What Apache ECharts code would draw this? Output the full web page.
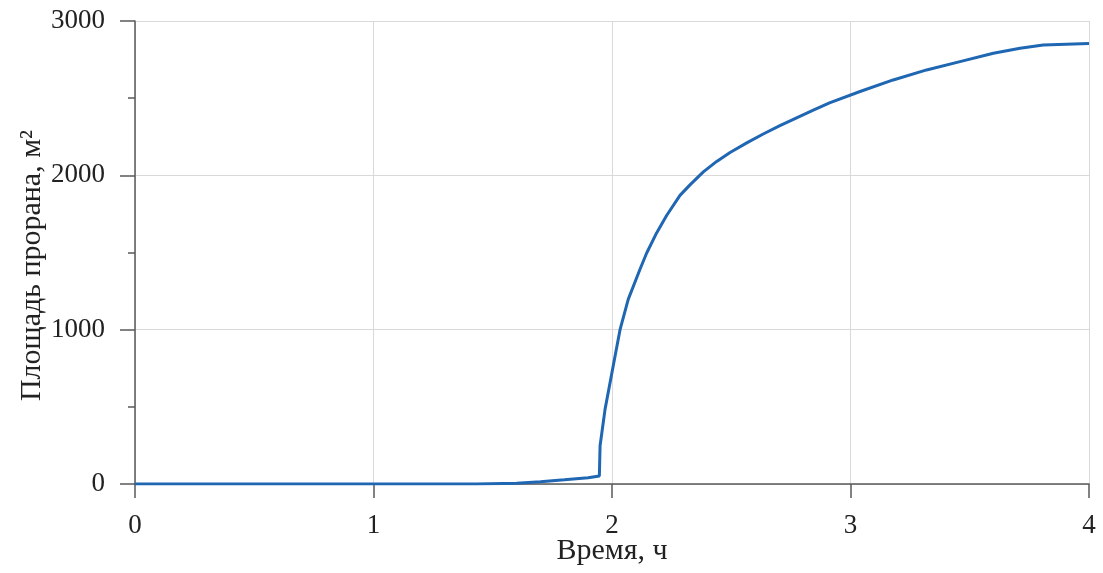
<!DOCTYPE html>
<html>
<head>
<meta charset="utf-8">
<script src="https://cdn.jsdelivr.net/npm/echarts@6/dist/echarts.min.js"></script>
<style>
  html, body { margin: 0; padding: 0; background: #ffffff; }
  #chart { width: 1103px; height: 573px; }
</style>
</head>
<body>
<div id="chart"></div>
<script>
// время, ч
var timeValues = [0, 1.43, 1.6, 1.7, 1.8, 1.9, 1.947, 1.95, 1.971, 2.005, 2.034, 2.068, 2.117, 2.145, 2.187, 2.229, 2.285, 2.327, 2.383, 2.439, 2.495, 2.565, 2.634, 2.704, 2.774, 2.844, 2.912, 3.04, 3.179, 3.319, 3.459, 3.599, 3.711, 3.808, 4.0];
// площадь прорана, м2
var areaValues = [0, 0, 5, 14, 27, 41, 52, 248, 485, 765, 1002, 1196, 1390, 1495, 1627, 1740, 1870, 1938, 2022, 2090, 2148, 2210, 2268, 2322, 2372, 2422, 2470, 2543, 2618, 2683, 2737, 2791, 2823, 2844, 2855];
var xTicks = [0, 1, 2, 3, 4];
var yTicks = [0, 1000, 2000, 3000];

var seriesData = [];
for (var i = 0; i < timeValues.length; i++) {
    seriesData.push([timeValues[i], areaValues[i]]);
}

var font = '"Liberation Serif", "Times New Roman", serif';
var axisColor = '#595959';
var gridColor = '#d9d9d9';

var myChart = echarts.init(document.getElementById('chart'));
var option = {
    animation: false,
    backgroundColor: '#ffffff',
    grid: {
        left: 135,
        right: 14,
        top: 21,
        bottom: 89,
        containLabel: false,
        outerBoundsMode: 'none'
    },
    xAxis: {
        type: 'value',
        min: xTicks[0],
        max: xTicks[xTicks.length - 1],
        interval: 1,
        name: 'Время, ч',
        nameLocation: 'middle',
        nameGap: 52,
        nameMoveOverlap: false,
        nameTextStyle: { fontFamily: font, fontSize: 30, color: '#222' },
        axisLine: { show: true, onZero: false, lineStyle: { color: axisColor, width: 1.5 } },
        axisTick: { show: true, inside: false, length: 14, lineStyle: { color: axisColor, width: 1.5 } },
        axisLabel: { fontFamily: font, fontSize: 27, color: '#222', margin: 28 },
        splitLine: { show: true, lineStyle: { color: gridColor, width: 1 } }
    },
    yAxis: {
        type: 'value',
        min: yTicks[0],
        max: yTicks[yTicks.length - 1],
        interval: 1000,
        name: 'Площадь прорана, м²',
        nameLocation: 'middle',
        nameGap: 88,
        nameMoveOverlap: false,
        nameTextStyle: { fontFamily: font, fontSize: 30, color: '#222', padding: [0, 26, 0, 0] },
        axisLine: { show: true, lineStyle: { color: axisColor, width: 1.5 } },
        axisTick: { show: true, inside: false, length: 15, lineStyle: { color: axisColor, width: 1.5 } },
        minorTick: { show: true, splitNumber: 2, length: 7, lineStyle: { color: axisColor, width: 1.5 } },
        axisLabel: {
            fontFamily: font, fontSize: 27, color: '#222', margin: 30,
            formatter: function(v) { return String(v); }
        },
        splitLine: { show: true, lineStyle: { color: gridColor, width: 1 } }
    },
    series: [{
        type: 'line',
        data: seriesData,
        showSymbol: false,
        smooth: false,
        lineStyle: { color: '#1f66b3', width: 3 }
    }]
};
myChart.setOption(option);
</script>
</body>
</html>
